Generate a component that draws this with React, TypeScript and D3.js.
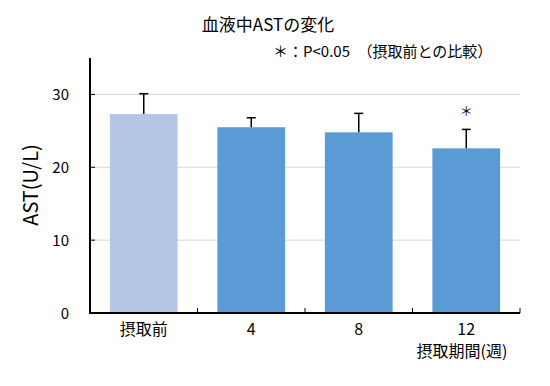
import React from 'react'
import * as d3 from 'd3'

const categories = ['摂取前', '4', '8', '12']
const means = [27.3, 25.5, 24.8, 22.6]
const errors = [2.8, 1.3, 2.6, 2.6]
const significant = [false, false, false, true]
const yTicks = [0, 10, 20, 30]
const barColors = ['#B4C7E7', '#5B9BD5', '#5B9BD5', '#5B9BD5']

const W = 550
const H = 386
const font = "'Noto Sans CJK JP', 'Noto Sans', sans-serif"

export default function App() {
  const left = 90
  const right = 520
  const top = 58
  const bottom = 313

  const x = d3.scaleBand().domain(categories).range([left, right]).paddingInner(0.37).paddingOuter(0.185)
  const y = d3.scaleLinear().domain([0, 35]).range([bottom, top])
  const step = (right - left) / categories.length

  return (
    <svg width={W} height={H} style={{ position: 'absolute', left: 0, top: 0 }} fontFamily={font}>
      <text x={268} y={31} textAnchor="middle" fontSize={17}>血液中ASTの変化</text>
      <text x={273} y={57} fontSize={15}>＊：P&lt;0.05　（摂取前との比較）</text>

      {/* gridlines */}
      {yTicks.filter(t => t > 0).map(t => (
        <line key={t} x1={left} x2={right} y1={y(t)} y2={y(t)} stroke="#D9D9D9" strokeWidth={1} />
      ))}

      {/* bars */}
      {categories.map((c, i) => (
        <rect key={c} x={x(c)} y={y(means[i])} width={x.bandwidth()} height={bottom - y(means[i])} fill={barColors[i]} />
      ))}

      {/* error bars */}
      {categories.map((c, i) => {
        const cx = (x(c) as number) + x.bandwidth() / 2
        return (
          <g key={c} stroke="#000" strokeWidth={1.5}>
            <line x1={cx} x2={cx} y1={y(means[i])} y2={y(means[i] + errors[i])} />
            <line x1={cx - 4.5} x2={cx + 4.5} y1={y(means[i] + errors[i])} y2={y(means[i] + errors[i])} />
          </g>
        )
      })}

      {/* significance marks */}
      {categories.map((c, i) => significant[i] && (
        <text key={c} x={(x(c) as number) + x.bandwidth() / 2} y={y(means[i] + errors[i]) - 13} textAnchor="middle" fontSize={13}>＊</text>
      ))}

      {/* axes */}
      <line x1={left} x2={left} y1={top} y2={bottom + 1} stroke="#000" strokeWidth={2} />
      <line x1={left - 1} x2={right} y1={bottom} y2={bottom} stroke="#000" strokeWidth={2} />
      {yTicks.map(t => (
        <g key={t}>
          <line x1={left} x2={left + 5} y1={y(t)} y2={y(t)} stroke="#000" strokeWidth={1} />
          <text x={69} y={y(t) + 5.5} textAnchor="end" fontSize={15}>{t}</text>
        </g>
      ))}
      {categories.map((c, i) => (
        <line key={c} x1={left + step * (i + 1)} x2={left + step * (i + 1)} y1={bottom} y2={bottom - 5} stroke="#000" strokeWidth={1} />
      ))}
      {categories.map(c => (
        <text key={c} x={(x(c) as number) + x.bandwidth() / 2} y={335} textAnchor="middle" fontSize={16}>{c}</text>
      ))}
      <text x={462} y={357} textAnchor="middle" fontSize={16}>摂取期間(週)</text>
      <text transform={`translate(38,185) rotate(-90)`} textAnchor="middle" fontSize={20}>AST(U/L)</text>
    </svg>
  )
}
